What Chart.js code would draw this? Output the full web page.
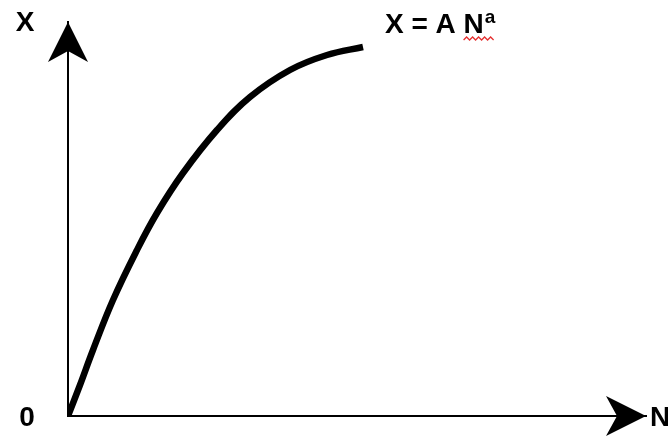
<!DOCTYPE html>
<html>
<head>
<meta charset="utf-8">
<script src="https://cdn.jsdelivr.net/npm/chart.js@4"></script>
<style>
  body { margin: 0; background: #fff; }
</style>
</head>
<body>
<canvas id="myChart" width="668" height="439"></canvas>
<script>
// curve: N along the bottom, X up the side
const nValues = [0, 12, 25, 45, 69, 89, 115, 149, 182, 222, 259, 295];
const xValues = [0, 31, 66, 116, 166, 203, 243, 286, 319, 346, 361, 369];
// where the arrow tips sit
const nMax = 578;
const xMax = 394;
const axisNames = ['N', 'X', '0'];
const formula = ['X = A N', 'a'];

// arrow heads, axis names and the formula
const arrowAxes = {
  id: 'arrowAxes',
  afterDraw(chart) {
    const ctx = chart.ctx;
    const xs = chart.scales.x, ys = chart.scales.y;
    const x0 = xs.getPixelForValue(0), y0 = ys.getPixelForValue(0);
    const xEnd = xs.getPixelForValue(nMax), yEnd = ys.getPixelForValue(xMax);
    ctx.save();
    ctx.fillStyle = '#000';

    // up arrow
    ctx.beginPath();
    ctx.moveTo(x0, yEnd);
    ctx.lineTo(x0 + 20, yEnd + 40);
    ctx.lineTo(x0, yEnd + 29);
    ctx.lineTo(x0 - 20, yEnd + 40);
    ctx.closePath();
    ctx.fill();

    // right arrow
    ctx.beginPath();
    ctx.moveTo(xEnd, y0);
    ctx.lineTo(xEnd - 40, y0 - 20);
    ctx.lineTo(xEnd - 29, y0);
    ctx.lineTo(xEnd - 40, y0 + 20);
    ctx.closePath();
    ctx.fill();

    const big = 'bold 28px "Liberation Sans", Arial, sans-serif';
    ctx.font = big;
    ctx.textBaseline = 'middle';
    ctx.textAlign = 'center';
    ctx.fillText(axisNames[1], x0 - 43, yEnd + 1);
    ctx.fillText(axisNames[2], x0 - 41, y0 + 2);
    ctx.textAlign = 'left';
    ctx.fillText(axisNames[0], xEnd + 4, y0 + 2);

    // formula next to the end of the curve
    const last = nValues.length - 1;
    const fx = xs.getPixelForValue(nValues[last]) + 22;
    const fy = ys.getPixelForValue(xValues[last]) - 14;
    ctx.textBaseline = 'alphabetic';
    ctx.fillText(formula[0], fx, fy);
    const w = ctx.measureText(formula[0]).width;
    const nWidth = ctx.measureText('N').width;
    ctx.font = 'bold 19px "Liberation Sans", Arial, sans-serif';
    ctx.fillText(formula[1], fx + w + 1, fy - 10);
    const aWidth = ctx.measureText(formula[1]).width;

    // red spell-check squiggle
    const sx = fx + w - nWidth;
    const ex = fx + w + aWidth + 2;
    ctx.strokeStyle = '#e53030';
    ctx.lineWidth = 1.3;
    ctx.beginPath();
    let up = true;
    ctx.moveTo(sx, fy + 7);
    for (let px = sx + 3; px <= ex; px += 3) {
      ctx.lineTo(px, up ? fy + 4 : fy + 7);
      up = !up;
    }
    ctx.stroke();
    ctx.restore();
  }
};

new Chart(document.getElementById('myChart'), {
  type: 'scatter',
  data: {
    datasets: [{
      data: nValues.map((n, i) => ({ x: n, y: xValues[i] })),
      showLine: true,
      borderColor: '#000',
      borderWidth: 6.5,
      pointRadius: 0,
      tension: 0.4,
      fill: false
    }]
  },
  options: {
    responsive: false,
    animation: false,
    devicePixelRatio: 1,
    layout: { padding: { left: 68, right: 22, top: 22, bottom: 23 } },
    plugins: { legend: { display: false }, tooltip: { enabled: false } },
    scales: {
      x: {
        type: 'linear', min: 0, max: nMax,
        grid: { display: false, drawTicks: false },
        ticks: { display: false },
        border: { display: true, color: '#000', width: 2 }
      },
      y: {
        type: 'linear', min: 0, max: xMax,
        grid: { display: false, drawTicks: false },
        ticks: { display: false },
        border: { display: true, color: '#000', width: 2 }
      }
    }
  },
  plugins: [arrowAxes]
});
</script>
</body>
</html>
